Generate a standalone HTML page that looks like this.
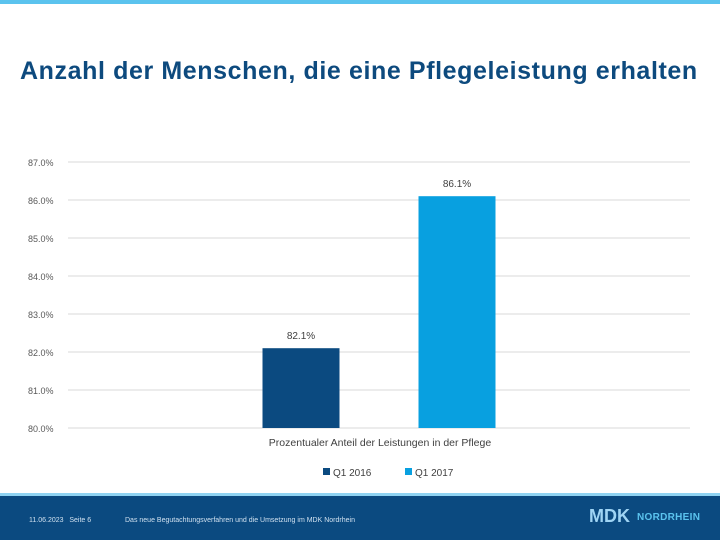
<!DOCTYPE html>
<html><head><meta charset="utf-8"><style>
body{margin:0;width:720px;height:540px;position:relative;background:#fff;font-family:"Liberation Sans",sans-serif;overflow:hidden}
#topbar{position:absolute;left:0;top:0;width:720px;height:4px;background:#5bc3ee}
#title{position:absolute;left:20px;top:57px;font-size:25px;font-weight:bold;color:#0d4a7e;white-space:nowrap;letter-spacing:0.6px}
#footer{position:absolute;left:0;top:493px;width:720px;height:47px;background:#0b4a80;border-top:3px solid #8fd3f2;box-sizing:border-box}
.ft{position:absolute;color:#cfe0ef;font-size:7px;top:21px}
</style></head><body>
<div id="topbar"></div>
<div id="title">Anzahl der Menschen, die eine Pflegeleistung erhalten</div>
<svg id="chart" width="720" height="540" style="position:absolute;left:0;top:0"></svg>
<div id="footer">
<span class="ft" style="left:29px">11.06.2023 &nbsp; Seite 6</span>
<span class="ft" style="left:125px">Das neue Begutachtungsverfahren und die Umsetzung im MDK Nordrhein</span>
<span style="position:absolute;left:589px;top:10px;color:#9fd4f4;font-size:18px;font-weight:bold">MDK</span>
<span style="position:absolute;left:637px;top:16px;color:#5bc3ee;font-size:10px;font-weight:bold;letter-spacing:0.3px">NORDRHEIN</span>
</div>
<script>
const series=["Q1 2016","Q1 2017"];
const values=[82.1,86.1];
const colors=["#0b4a80","#08a0e0"];
const ticks=[80,81,82,83,84,85,86,87];
const category="Prozentualer Anteil der Leistungen in der Pflege";
const NS="http://www.w3.org/2000/svg";
const svg=document.getElementById('chart');
const y0=428,per=38,yMin=80;
const y=v=>y0-(v-yMin)*per;
function mk(t,a,txt){const e=document.createElementNS(NS,t);for(const k in a)e.setAttribute(k,a[k]);if(txt!=null)e.textContent=txt;svg.appendChild(e);return e;}
ticks.forEach(t=>{
 const l=mk('line',{x1:68,x2:690,y1:y(t),y2:y(t),stroke:'#d9d9d9','stroke-width':1});
 
 
 const tx=mk('text',{x:28,y:y(t)+4,'font-size':9,fill:'#595959'},t.toFixed(1)+'%');
 
 
});
const centers=[301,457],bw=77;
values.forEach((v,i)=>{
 const r=mk('rect',{x:centers[i]-bw/2,y:y(v),width:bw,height:y0-y(v),fill:colors[i]});
 
 
 const t=mk('text',{x:centers[i],y:y(v)-9,'font-size':10,fill:'#404040','text-anchor':'middle'},v.toFixed(1)+'%');
 
 
});
const c=mk('text',{x:380,y:446,'font-size':10.5,fill:'#404040','text-anchor':'middle'},category);


const lx=[323,405];
series.forEach((s,i)=>{
 const r=mk('rect',{x:lx[i],y:468,width:7,height:7,fill:colors[i]});
 
 
 const t=mk('text',{x:lx[i]+10,y:476,'font-size':10,fill:'#404040'},s);
 
 
});
</script>
</body></html>
